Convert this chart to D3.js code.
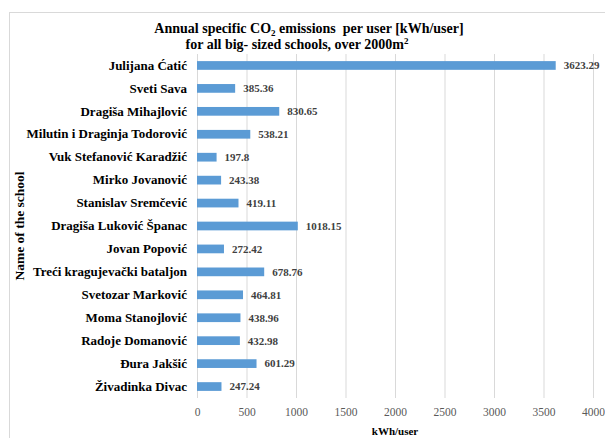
<!DOCTYPE html>
<html>
<head>
<meta charset="utf-8">
<script src="https://cdn.jsdelivr.net/npm/d3@7"></script>
<style>
  body { margin: 0; background: #fff; }
  svg text { font-family: "Liberation Serif", "Times New Roman", Times, "DejaVu Serif", serif !important; }
</style>
</head>
<body>
<div class="chart"></div>
<script>
const schools = ['Julijana Ćatić', 'Sveti Sava', 'Dragiša Mihajlović', 'Milutin i Draginja Todorović',
  'Vuk Stefanović Karadžić', 'Mirko Jovanović', 'Stanislav Sremčević', 'Dragiša Luković Španac',
  'Jovan Popović', 'Treći kragujevački bataljon', 'Svetozar Marković', 'Moma Stanojlović',
  'Radoje Domanović', 'Đura Jakšić', 'Živadinka Divac'];
const emissions = [3623.29, 385.36, 830.65, 538.21, 197.8, 243.38, 419.11, 1018.15,
  272.42, 678.76, 464.81, 438.96, 432.98, 601.29, 247.24];
const xTicks = [0, 500, 1000, 1500, 2000, 2500, 3000, 3500, 4000];

const dataset = schools.map((s, i) => ({ name: s, value: emissions[i] }));

const width = 605, height = 438;
const plot = { left: 197, right: 593, top: 54, bottom: 398 };

const svg = d3.select('.chart')
  .append('svg')
  .attr('width', width)
  .attr('height', height);

// chart border
svg.append('rect')
  .attr('x', 9.5).attr('y', 12.5)
  .attr('width', 620).attr('height', 450)
  .attr('fill', 'none')
  .attr('stroke', '#d9d9d9');

// scales
const x = d3.scaleLinear().domain([0, 4000]).range([plot.left, plot.right]);
const y = d3.scaleBand()
  .domain(schools)
  .range([plot.top, plot.bottom])
  .paddingInner(0.62)
  .paddingOuter(0.31);

// gridlines
svg.append('g')
  .selectAll('line')
  .data(xTicks)
  .join('line')
  .attr('x1', d => x(d) + 0.5).attr('x2', d => x(d) + 0.5)
  .attr('y1', plot.top).attr('y2', plot.bottom)
  .attr('stroke', '#d9d9d9');

// x axis (labels only)
svg.append('g')
  .attr('transform', `translate(0, ${plot.bottom})`)
  .call(d3.axisBottom(x).tickValues(xTicks).tickSize(0).tickPadding(10).tickFormat(d3.format('d')))
  .call(g => g.select('.domain').remove())
  .call(g => g.selectAll('text')
    .attr('font-size', 11.5)
    .attr('fill', '#595959'));

// y axis labels
svg.append('g')
  .attr('transform', `translate(${plot.left}, 0)`)
  .call(d3.axisLeft(y).tickSize(0).tickPadding(10))
  .call(g => g.select('.domain').remove())
  .call(g => g.selectAll('text')
    .attr('font-size', 13)
    .attr('font-weight', 'bold')
    .attr('fill', '#000'));

// bars
svg.selectAll('rect.bar')
  .data(dataset)
  .join('rect')
  .attr('class', 'bar')
  .attr('x', x(0))
  .attr('y', d => y(d.name))
  .attr('width', d => x(d.value) - x(0))
  .attr('height', y.bandwidth())
  .attr('fill', '#5b9bd5');

// value labels
svg.selectAll('text.val')
  .data(dataset)
  .join('text')
  .attr('class', 'val')
  .attr('x', d => x(d.value) + 8)
  .attr('y', d => y(d.name) + y.bandwidth() / 2)
  .attr('dy', '0.35em')
  .attr('font-size', 11)
  .attr('font-weight', 'bold')
  .attr('fill', '#404040')
  .text(d => d.value);

// title
const title = svg.append('text')
  .attr('text-anchor', 'middle')
  .attr('font-size', 14)
  .attr('font-weight', 'bold')
  .attr('fill', '#000');
const t1 = title.append('tspan').attr('x', 309).attr('y', 33);
t1.append('tspan').text('Annual specific CO');
t1.append('tspan').attr('font-size', 9).attr('dy', 3).text('2');
t1.append('tspan').attr('dy', -3).text(' emissions\u00a0 per user [kWh/user]');
const t2 = title.append('tspan').attr('x', 297).attr('y', 49);
t2.append('tspan').text('for all big- sized schools, over 2000m');
t2.append('tspan').attr('font-size', 9).attr('dy', -5).text('2');

// axis titles
svg.append('text')
  .attr('x', (plot.left + plot.right) / 2)
  .attr('y', 435)
  .attr('text-anchor', 'middle')
  .attr('font-size', 11)
  .attr('font-weight', 'bold')
  .text('kWh/user');

svg.append('text')
  .attr('transform', `translate(24, 226) rotate(-90)`)
  .attr('text-anchor', 'middle')
  .attr('font-size', 13.5)
  .attr('font-weight', 'bold')
  .text('Name of the school');
</script>
</body>
</html>
